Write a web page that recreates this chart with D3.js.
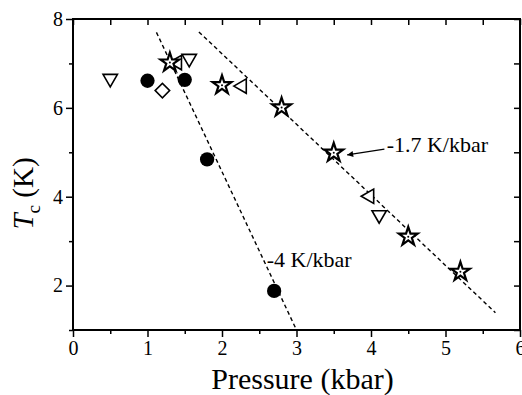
<!DOCTYPE html>
<html>
<head>
<meta charset="utf-8">
<script src="https://cdn.jsdelivr.net/npm/d3@7"></script>
<style>
  body { margin: 0; background: #fff; }
</style>
</head>
<body>
<svg id="chart" width="522" height="395"></svg>
<script>
// ----- Data -----------------------------------------------------------------
var X_TICKS = [0, 1, 2, 3, 4, 5, 6];
var X_MINOR = [0.5, 1.5, 2.5, 3.5, 4.5, 5.5];
var Y_TICKS = [2, 4, 6, 8];
var Y_MINOR = [1, 3, 5, 7];

var CIRCLE_P = [1.0, 1.5, 1.8, 2.7];
var CIRCLE_T = [6.61, 6.63, 4.84, 1.88];

var STAR_P = [1.3, 2.0, 2.8, 3.5, 4.5, 5.2];
var STAR_T = [7.02, 6.51, 6.01, 4.99, 3.10, 2.31];

var DOWN_P = [0.5, 1.56, 4.11];
var DOWN_T = [6.66, 7.11, 3.59];

var LEFT_P = [1.4, 2.27, 3.98];
var LEFT_T = [7.02, 6.49, 4.01];

var DIAMOND_P = [1.2];
var DIAMOND_T = [6.39];

// dashed guide lines (endpoints)
var FIT_STEEP = [[1.12, 7.70], [3.0, 1.0]];
var FIT_SHALLOW = [[1.69, 7.71], [5.67, 1.39]];

var LABEL_STEEP = { text: '-4 K/kbar', p: 2.60, t: 2.42 };
var LABEL_SHALLOW = { text: '-1.7 K/kbar', p: 4.21, t: 5.00 };
var ARROW = [[4.18, 5.07], [3.68, 4.94]];

var FONT = 'Liberation Serif, Tinos, Times New Roman, DejaVu Serif, serif';

// ----- SVG Setup ------------------------------------------------------------
var svg = d3.select('#chart').attr('font-family', FONT);
var margin = { top: 19, right: 2, bottom: 65, left: 73 };
var width = 522 - margin.left - margin.right;
var height = 395 - margin.top - margin.bottom;

var x = d3.scaleLinear().domain([0, 6]).range([0, width]);
var y = d3.scaleLinear().domain([1, 8]).range([height, 0]);

var g = svg.append('g')
    .attr('transform', 'translate(' + margin.left + ',' + margin.top + ')');

svg.append('defs').append('marker')
    .attr('id', 'arrowhead')
    .attr('viewBox', '0 0 10 10')
    .attr('refX', 10).attr('refY', 5)
    .attr('markerWidth', 9).attr('markerHeight', 6)
    .attr('markerUnits', 'userSpaceOnUse')
    .attr('orient', 'auto')
  .append('path')
    .attr('d', 'M0,0 L10,5 L0,10 z')
    .attr('fill', '#000');

// ----- Axes -----------------------------------------------------------------
function styleAxis(sel) {
  sel.attr('font-family', FONT).attr('font-size', 20);
  sel.select('.domain').remove();
  sel.selectAll('line').attr('stroke', '#000').attr('stroke-width', 1.5);
  sel.selectAll('text').attr('fill', '#000');
}

g.append('g')
    .attr('transform', 'translate(0,' + height + ')')
    .call(d3.axisBottom(x).tickValues(X_TICKS).tickSize(7).tickPadding(4).tickFormat(d3.format('d')))
    .call(styleAxis);
g.append('g')
    .attr('transform', 'translate(0,' + height + ')')
    .call(d3.axisBottom(x).tickValues(X_MINOR).tickSize(4).tickFormat(''))
    .call(styleAxis);

g.append('g')
    .call(d3.axisLeft(y).tickValues(Y_TICKS).tickSize(7).tickPadding(3).tickFormat(d3.format('d')))
    .call(styleAxis);
g.append('g')
    .call(d3.axisLeft(y).tickValues(Y_MINOR).tickSize(4).tickFormat(''))
    .call(styleAxis);

// mirrored ticks pointing inward on top and right
g.append('g')
    .call(d3.axisBottom(x).tickValues(X_TICKS.concat(X_MINOR)).tickSize(6).tickFormat(''))
    .call(styleAxis);
g.append('g')
    .attr('transform', 'translate(' + width + ',0)')
    .call(d3.axisLeft(y).tickValues(Y_TICKS.concat(Y_MINOR)).tickSize(6).tickFormat(''))
    .call(styleAxis);

// frame
g.append('rect')
    .attr('x', 0).attr('y', 0)
    .attr('width', width).attr('height', height)
    .attr('fill', 'none')
    .attr('stroke', '#000')
    .attr('stroke-width', 2);

// axis titles
svg.append('text')
    .attr('x', margin.left + width / 2 + 6)
    .attr('y', 389)
    .attr('text-anchor', 'middle')
    .attr('font-size', 30)
    .text('Pressure (kbar)');

var yTitle = svg.append('text')
    .attr('transform', 'translate(33,' + (margin.top + height / 2 + 19) + ') rotate(-90)')
    .attr('text-anchor', 'middle')
    .attr('font-size', 29);
yTitle.append('tspan').attr('font-style', 'italic').text('T');
yTitle.append('tspan').attr('dy', 7).attr('font-size', 19).text('c');
yTitle.append('tspan').attr('dy', -7).text(' (K)');

// ----- Guide lines ----------------------------------------------------------
var line = d3.line().x(function(d) { return x(d[0]); }).y(function(d) { return y(d[1]); });

[FIT_STEEP, FIT_SHALLOW].forEach(function(pts) {
  g.append('path')
      .attr('d', line(pts))
      .attr('fill', 'none')
      .attr('stroke', '#000')
      .attr('stroke-width', 1.4)
      .attr('stroke-dasharray', '4,3');
});

// ----- Markers --------------------------------------------------------------
function zip(ps, ts) { return ps.map(function(p, i) { return [p, ts[i]]; }); }

function drawSymbol(data, type, size, rotate, fill, strokeW) {
  g.selectAll(null)
      .data(data)
    .enter().append('path')
      .attr('transform', function(d) {
        return 'translate(' + x(d[0]) + ',' + y(d[1]) + ') rotate(' + rotate + ')';
      })
      .attr('d', d3.symbol().type(type).size(size))
      .attr('fill', fill)
      .attr('stroke', '#000')
      .attr('stroke-width', strokeW)
      .attr('stroke-linejoin', 'miter');
}

drawSymbol(zip(DOWN_P, DOWN_T), d3.symbolTriangle, 90, 180, '#fff', 1.6);
drawSymbol(zip(LEFT_P, LEFT_T), d3.symbolTriangle, 90, -90, '#fff', 1.6);
drawSymbol(zip(DIAMOND_P, DIAMOND_T), d3.symbolSquare, 105, 45, '#fff', 1.6);
drawSymbol(zip(STAR_P, STAR_T), d3.symbolStar, 110, 0, '#fff', 2.2);
drawSymbol(zip(CIRCLE_P, CIRCLE_T), d3.symbolCircle, 160, 0, '#000', 0);

// small dot in the middle of each star
g.selectAll('.star-dot')
    .data(zip(STAR_P, STAR_T))
  .enter().append('circle')
    .attr('class', 'star-dot')
    .attr('cx', function(d) { return x(d[0]); })
    .attr('cy', function(d) { return y(d[1]); })
    .attr('r', 1)
    .attr('fill', '#000');

// ----- Annotations ----------------------------------------------------------
[LABEL_STEEP, LABEL_SHALLOW].forEach(function(l) {
  g.append('text')
      .attr('x', x(l.p))
      .attr('y', y(l.t))
      .attr('font-size', 22)
      .text(l.text);
});

g.append('path')
    .attr('d', line(ARROW))
    .attr('stroke', '#000')
    .attr('stroke-width', 1.3)
    .attr('marker-end', 'url(#arrowhead)');
</script>
</body>
</html>
